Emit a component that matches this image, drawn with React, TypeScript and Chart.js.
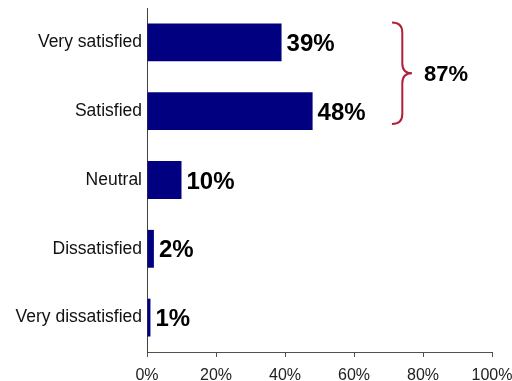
import React, { useEffect, useRef } from "react";
import { Chart, registerables } from "chart.js";

Chart.register(...registerables);

const categories = ["Very satisfied", "Satisfied", "Neutral", "Dissatisfied", "Very dissatisfied"];
const values = [39, 48, 10, 2, 1];
const xTicks = [0, 20, 40, 60, 80, 100];
const bracketIndices = [0, 1];

const BAR_COLOR = "#000080";
const BRACKET_COLOR = "#b0203a";

const valueLabelPlugin = {
  id: "valueLabels",
  afterDatasetsDraw(chart: any) {
    const ctx = chart.ctx;
    const meta = chart.getDatasetMeta(0);
    ctx.save();
    ctx.fillStyle = "#000";
    ctx.font = "bold 24px 'Liberation Sans', Arial, sans-serif";
    ctx.textAlign = "left";
    ctx.textBaseline = "middle";
    meta.data.forEach((bar: any, i: number) => {
      ctx.fillText(values[i] + "%", bar.x + 5, bar.y + 2);
    });
    ctx.restore();
  },
};

const bracketPlugin = {
  id: "bracket",
  afterDatasetsDraw(chart: any) {
    const ctx = chart.ctx;
    const meta = chart.getDatasetMeta(0);
    const xs = chart.scales.x;
    const b0 = meta.data[bracketIndices[0]];
    const b1 = meta.data[bracketIndices[1]];
    const top = b0.y - b0.height / 2 - 1;
    const bottom = b1.y + b1.height / 2 - 6;
    const mid = (top + bottom) / 2;
    const xv = xs.getPixelForValue(74);
    const xl = xs.getPixelForValue(71);
    const xt = xs.getPixelForValue(76.8);
    const r = 10;
    ctx.save();
    ctx.strokeStyle = BRACKET_COLOR;
    ctx.lineWidth = 2;
    ctx.beginPath();
    ctx.moveTo(xl, top);
    ctx.quadraticCurveTo(xv, top, xv, top + r);
    ctx.lineTo(xv, mid - r);
    ctx.quadraticCurveTo(xv, mid, xt, mid);
    ctx.quadraticCurveTo(xv, mid, xv, mid + r);
    ctx.lineTo(xv, bottom - r);
    ctx.quadraticCurveTo(xv, bottom, xl, bottom);
    ctx.stroke();
    const total = bracketIndices.reduce((s, i) => s + values[i], 0);
    ctx.fillStyle = "#000";
    ctx.font = "bold 22px 'Liberation Sans', Arial, sans-serif";
    ctx.textAlign = "left";
    ctx.textBaseline = "middle";
    ctx.fillText(total + "%", xs.getPixelForValue(80.3), mid + 2);
    ctx.restore();
  },
};

export default function App() {
  const ref = useRef<HTMLCanvasElement | null>(null);
  useEffect(() => {
    if (!ref.current) return;
    const chart = new Chart(ref.current, {
      type: "bar",
      data: {
        labels: categories,
        datasets: [
          {
            data: values,
            backgroundColor: BAR_COLOR,
            borderWidth: 0,
            categoryPercentage: 1,
            barPercentage: 0.55,
          },
        ],
      },
      options: {
        indexAxis: "y",
        responsive: false,
        animation: false,
        layout: { padding: { top: 8, right: 20, left: 0, bottom: 0 } },
        plugins: { legend: { display: false }, tooltip: { enabled: false } },
        scales: {
          x: {
            min: 0,
            max: 100,
            afterBuildTicks: (scale: any) => {
              scale.ticks = xTicks.map((v) => ({ value: v }));
            },
            afterFit: (scale: any) => {
              scale.height = 29;
              scale.paddingLeft = 0;
              scale.paddingRight = 0;
            },
            grid: { drawOnChartArea: false, drawTicks: true, tickLength: 5, color: "#505050" },
            border: { display: true, color: "#505050", width: 1 },
            ticks: {
              padding: 9,
              color: "#222",
              font: { family: "'Liberation Sans', Arial, sans-serif", size: 16 },
              callback: (v: any) => v + "%",
              maxRotation: 0,
            },
          },
          y: {
            afterFit: (scale: any) => {
              scale.width = 147;
              scale.paddingTop = 0;
              scale.paddingBottom = 0;
            },
            grid: { display: false, drawTicks: false },
            border: { display: true, color: "#404040", width: 1 },
            ticks: {
              padding: 5,
              color: "#111",
              font: { family: "'Liberation Sans', Arial, sans-serif", size: 17.5 },
            },
          },
        },
      },
      plugins: [valueLabelPlugin, bracketPlugin],
    });
    return () => chart.destroy();
  }, []);
  return (
    <div style={{ position: "absolute", left: 0, top: 0, width: 512, height: 381, background: "#fff" }}>
      <canvas ref={ref} width={512} height={381} />
    </div>
  );
}
